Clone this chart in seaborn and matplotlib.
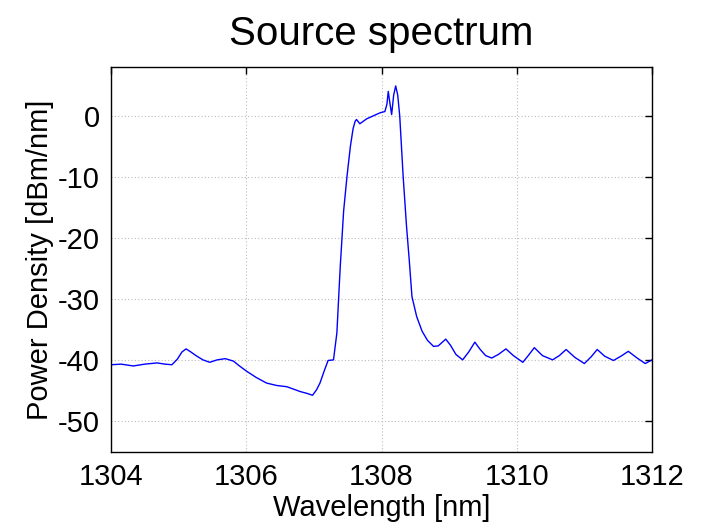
import matplotlib
matplotlib.use("Agg")
import matplotlib.pyplot as plt
import seaborn as sns
import pandas as pd

wavelength_nm = [
    1304.00, 1304.15, 1304.33, 1304.50, 1304.68, 1304.80, 1304.90, 1304.98,
    1305.05, 1305.11, 1305.18, 1305.27, 1305.36, 1305.46, 1305.57, 1305.69,
    1305.81, 1305.90, 1306.01, 1306.15, 1306.30, 1306.45, 1306.60, 1306.70,
    1306.80, 1306.90, 1306.98, 1307.04, 1307.09, 1307.15, 1307.21, 1307.29,
    1307.34, 1307.39, 1307.44, 1307.49, 1307.54, 1307.58, 1307.61, 1307.63,
    1307.68, 1307.78, 1307.88, 1307.98, 1308.05, 1308.08, 1308.10, 1308.12,
    1308.15, 1308.18, 1308.21, 1308.24, 1308.27, 1308.32, 1308.37, 1308.41,
    1308.45, 1308.52, 1308.60, 1308.68, 1308.77, 1308.84, 1308.95, 1309.02,
    1309.10, 1309.20, 1309.29, 1309.38, 1309.46, 1309.54, 1309.63, 1309.73,
    1309.84, 1309.95, 1310.09, 1310.17, 1310.26, 1310.38, 1310.53, 1310.63,
    1310.73, 1310.86, 1311.00, 1311.10, 1311.19, 1311.30, 1311.43, 1311.54,
    1311.65, 1311.78, 1311.90, 1312.00,
]
power_dbm_nm = [
    -40.7, -40.6, -40.9, -40.6, -40.4, -40.6, -40.7, -39.8,
    -38.6, -38.1, -38.6, -39.3, -39.9, -40.3, -39.9, -39.7,
    -40.1, -40.9, -41.8, -42.8, -43.7, -44.1, -44.3, -44.7,
    -45.1, -45.4, -45.7, -44.8, -43.7, -41.8, -40.0, -39.9,
    -35.5, -24.6, -15.5, -9.8, -4.9, -2.0, -0.8, -0.5,
    -1.2, -0.4, 0.1, 0.6, 0.8, 2.0, 4.1, 2.5,
    0.3, 3.5, 5.0, 3.5, 0.0, -9.8, -18.0, -23.5,
    -29.5, -32.8, -35.2, -36.7, -37.7, -37.6, -36.5, -37.5,
    -39.0, -39.9, -38.6, -37.0, -38.2, -39.2, -39.6, -39.0,
    -38.1, -39.2, -40.3, -39.2, -37.9, -39.2, -39.9, -39.2,
    -38.2, -39.5, -40.5, -39.4, -38.2, -39.3, -40.0, -39.3,
    -38.5, -39.6, -40.5, -39.9,
]
x_ticks = [1304, 1306, 1308, 1310, 1312]
y_ticks = [0, -10, -20, -30, -40, -50]
title_text = "Source spectrum"
x_label = "Wavelength [nm]"
y_label = "Power Density [dBm/nm]"

sns.set_style("white")
plt.rcParams["font.family"] = ["Liberation Sans", "DejaVu Sans"]
plt.rcParams["text.color"] = "black"
plt.rcParams["axes.labelcolor"] = "black"
plt.rcParams["xtick.color"] = "black"
plt.rcParams["ytick.color"] = "black"

df = pd.DataFrame({"wl": wavelength_nm, "p": power_dbm_nm})

fig = plt.figure(figsize=(7.04, 5.26), dpi=100)
ax = fig.add_axes([111 / 704, 1 - 452 / 526, (652 - 111) / 704, (452 - 67) / 526])

sns.lineplot(data=df, x="wl", y="p", ax=ax, sort=False, estimator=None,
             color="#0000ff", linewidth=1.0)

ax.set_xlim(1304, 1312)
ax.set_ylim(-55, 8.1)
ax.set_xticks(x_ticks)
ax.set_yticks(y_ticks)
ax.set_xticklabels([str(t) for t in x_ticks])
ax.set_yticklabels([str(t) for t in y_ticks])
ax.tick_params(axis="both", which="both", direction="in", length=5, width=1,
               labelsize=21, top=True, right=True, color="black", pad=8,
               labelcolor="black")
ax.grid(True, linestyle=(0, (1, 2)), color="#bdbdbd", linewidth=0.8)
for s in ax.spines.values():
    s.set_visible(True)
    s.set_color("black")
    s.set_linewidth(1.0)

ax.set_title(title_text, fontsize=29, pad=16, color="black")
ax.set_xlabel(x_label, fontsize=21, labelpad=2, color="black")
ax.set_ylabel(y_label, fontsize=21, labelpad=3, color="black")

fig.savefig("out.png", dpi=100, facecolor="white")
